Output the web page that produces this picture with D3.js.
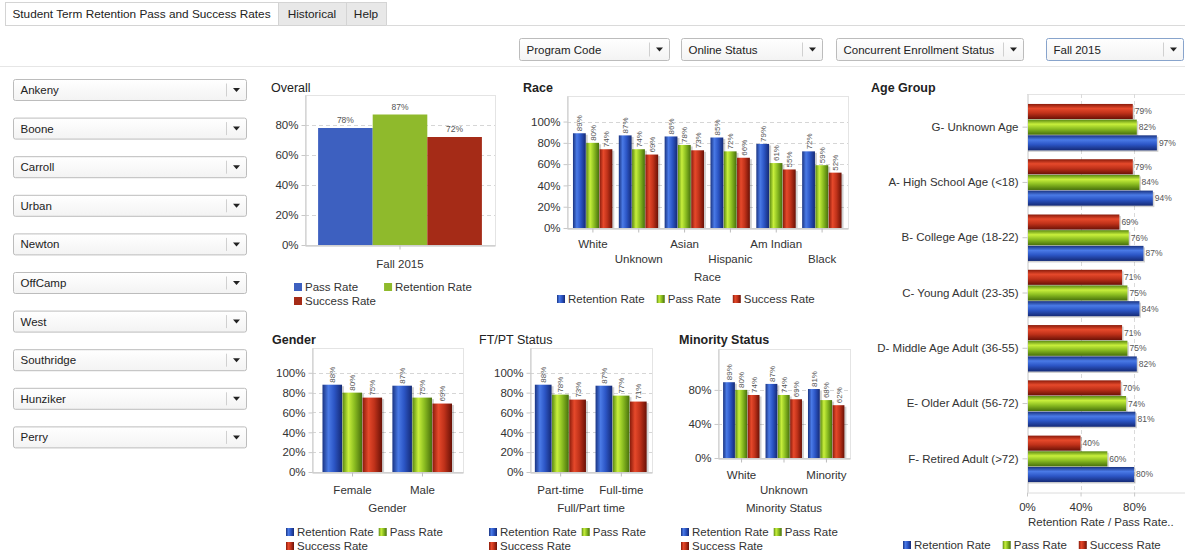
<!DOCTYPE html>
<html lang="en">
<head>
<meta charset="UTF-8" />
<title>Student Term Retention Pass and Success Rates</title>
<script src="https://cdn.jsdelivr.net/npm/d3@7"></script>
<style>
  html, body { margin: 0; padding: 0; background: #fff; }
  svg { display: block; font-family: 'Liberation Sans', Arial, sans-serif; }
</style>
</head>
<body>
<svg width="1185" height="558"></svg>
<script>
const tabNames = ['Student Term Retention Pass and Success Rates', 'Historical', 'Help'];
const filterNames = ['Program Code', 'Online Status', 'Concurrent Enrollment Status', 'Fall 2015'];
const campusNames = ['Ankeny', 'Boone', 'Carroll', 'Urban', 'Newton', 'OffCamp', 'West', 'Southridge', 'Hunziker', 'Perry'];

const overallCats = ['Fall 2015'];
const overallSeries = ['Pass Rate', 'Retention Rate', 'Success Rate'];
const overallValues = [[78], [87], [72]];
const overallTicks = [0, 20, 40, 60, 80];

const rateSeries = ['Retention Rate', 'Pass Rate', 'Success Rate'];

const raceCats = ['White', 'Unknown', 'Asian', 'Hispanic', 'Am Indian', 'Black'];
const raceRetention = [89, 87, 86, 85, 79, 72];
const racePass = [80, 74, 78, 72, 61, 59];
const raceSuccess = [74, 69, 73, 66, 55, 52];
const raceTicks = [0, 20, 40, 60, 80, 100];

const genderCats = ['Female', 'Male'];
const genderRetention = [88, 87];
const genderPass = [80, 75];
const genderSuccess = [75, 69];

const ftptCats = ['Part-time', 'Full-time'];
const ftptRetention = [88, 87];
const ftptPass = [78, 77];
const ftptSuccess = [73, 71];
const smallTicks = [0, 20, 40, 60, 80, 100];

const minorityCats = ['White', 'Unknown', 'Minority'];
const minorityRetention = [89, 87, 81];
const minorityPass = [80, 74, 68];
const minoritySuccess = [74, 69, 62];
const minorityTicks = [0, 40, 80];

const ageCats = ['G- Unknown Age', 'A- High School Age (<18)', 'B- College Age (18-22)', 'C- Young Adult (23-35)',
  'D- Middle Age Adult (36-55)', 'E- Older Adult (56-72)', 'F- Retired Adult (>72)'];
const ageRetention = [97, 94, 87, 84, 82, 81, 80];
const agePass = [82, 84, 76, 75, 75, 74, 60];
const ageSuccess = [79, 79, 69, 71, 71, 70, 40];
const ageTicks = [0, 40, 80];

const svg = d3.select('svg');
const defs = svg.append('defs');

// cylinder-ish shading used by the BI tool
const gradStops = {
  blue: [[0, '#1a3482'], [0.3, '#4a7ae6'], [0.6, '#2c56c6'], [1, '#152a76']],
  green: [[0, '#5a8912'], [0.3, '#c8ef3c'], [0.6, '#8dbf22'], [1, '#47700c']],
  red: [[0, '#8a1b0b'], [0.3, '#e6492b'], [0.6, '#c0321a'], [1, '#6a1106']]
};
Object.entries(gradStops).forEach(([name, stops]) => {
  ['h', 'v'].forEach(dir => {
    const lg = defs.append('linearGradient').attr('id', name + '-' + dir)
      .attr('x1', 0).attr('y1', 0).attr('x2', dir === 'h' ? 1 : 0).attr('y2', dir === 'h' ? 0 : 1);
    stops.forEach(s => lg.append('stop').attr('offset', s[0]).attr('stop-color', s[1]));
  });
});
const dd = defs.append('linearGradient').attr('id', 'dd').attr('x1', 0).attr('y1', 0).attr('x2', 0).attr('y2', 1);
dd.append('stop').attr('offset', 0).attr('stop-color', '#ffffff');
dd.append('stop').attr('offset', 1).attr('stop-color', '#f3f3f3');

const seriesColor = { 'Retention Rate': 'blue', 'Pass Rate': 'green', 'Success Rate': 'red' };
const overallFlat = { 'Pass Rate': '#3d60c0', 'Retention Rate': '#8fba2c', 'Success Rate': '#a52b17' };

// ---- tabs ----
const tabEdges = [5, 278, 346, 386];
tabNames.forEach((t, i) => {
  svg.append('rect').attr('x', tabEdges[i] + 0.5).attr('y', 2.5)
    .attr('width', tabEdges[i + 1] - tabEdges[i]).attr('height', 23)
    .attr('fill', i === 0 ? '#fff' : '#e8e8e8').attr('stroke', '#d4d4d4');
  svg.append('text').attr('x', (tabEdges[i] + tabEdges[i + 1]) / 2).attr('y', 14).attr('dy', '0.35em')
    .attr('text-anchor', 'middle').attr('font-size', 11.8).attr('fill', '#222').text(t);
});
svg.append('line').attr('x1', 386).attr('x2', 1185).attr('y1', 25.5).attr('y2', 25.5).attr('stroke', '#dadada');
svg.append('line').attr('x1', 0).attr('x2', 1185).attr('y1', 66.5).attr('y2', 66.5).attr('stroke', '#e6e6e6');

function dropdown(x, y, w, h, label, active) {
  const g = svg.append('g').attr('transform', `translate(${x + 0.5},${y + 0.5})`);
  g.append('rect').attr('width', w).attr('height', h).attr('rx', 2)
    .attr('fill', 'url(#dd)').attr('stroke', active ? '#88a4cc' : '#bcbcbc');
  g.append('text').attr('x', 7).attr('y', h / 2).attr('dy', '0.35em')
    .attr('font-size', 11.5).attr('fill', '#222').text(label);
  g.append('line').attr('x1', w - 20).attr('x2', w - 20).attr('y1', 4).attr('y2', h - 4).attr('stroke', '#d0d0d0');
  g.append('path').attr('d', `M${w - 13.5},${h / 2 - 2}h7l-3.5,4z`).attr('fill', '#222');
}

const filterBoxes = [[519, 150], [681, 141], [836, 187], [1046, 137]];
filterNames.forEach((f, i) => dropdown(filterBoxes[i][0], 38, filterBoxes[i][1], 22, f, i === 3));
campusNames.forEach((c, i) => dropdown(13, 79 + i * 38.6, 233, 21, c, false));

function legend(g, rows, x0, y0, gap, fillFn) {
  rows.forEach((row, ri) => {
    let x = x0;
    const y = y0 + ri * 14;
    row.forEach(s => {
      g.append('rect').attr('x', x).attr('y', y - 4).attr('width', 8).attr('height', 8).attr('fill', fillFn(s));
      const t = g.append('text').attr('x', x + 11).attr('y', y).attr('dy', '0.35em')
        .attr('font-size', 11.5).attr('fill', '#333').text(s);
      x += 11 + t.node().getComputedTextLength() + gap;
    });
  });
}

function columnChart(c) {
  const g = svg.append('g');
  const x = d3.scaleBand().domain(c.cats).range([c.left, c.right]).paddingInner(c.pad).paddingOuter(c.outer);
  const xs = d3.scaleBand().domain(c.series).range([0, x.bandwidth()]);
  const y = d3.scaleLinear().domain([0, c.max]).range([c.bottom, c.top]);
  const fill = s => c.flat ? c.flat[s] : `url(#${seriesColor[s]}-h)`;

  g.append('text').attr('x', c.titleX).attr('y', c.titleY)
    .attr('font-size', 12.5).attr('font-weight', c.bold ? 'bold' : 'normal').attr('fill', '#222').text(c.title);

  g.append('rect').attr('x', c.left + 0.5).attr('y', c.top + 0.5)
    .attr('width', c.right - c.left).attr('height', c.bottom - c.top)
    .attr('fill', 'none').attr('stroke', '#e4e4e4');

  g.selectAll('line.grid').data(c.ticks.filter(t => t > 0)).join('line').attr('class', 'grid')
    .attr('x1', c.left).attr('x2', c.right)
    .attr('y1', d => Math.round(y(d)) + 0.5).attr('y2', d => Math.round(y(d)) + 0.5)
    .attr('stroke', '#d6d6d6').attr('stroke-dasharray', '4,3');

  const yAxis = g.append('g').attr('transform', `translate(${c.left + 0.5},0)`)
    .call(d3.axisLeft(y).tickValues(c.ticks).tickFormat(d => d + '%').tickSize(4).tickSizeOuter(0).tickPadding(3));
  yAxis.attr('font-family', null).attr('font-size', 11.5);
  yAxis.select('.domain').attr('stroke', '#c8c8c8');
  yAxis.selectAll('.tick line').attr('stroke', '#c8c8c8');
  yAxis.selectAll('.tick text').attr('fill', '#333');

  const xAxis = g.append('g').attr('transform', `translate(0,${c.bottom + 0.5})`)
    .call(d3.axisBottom(x).tickSize(4).tickSizeOuter(0).tickFormat(() => ''));
  xAxis.select('.domain').attr('stroke', '#bdbdbd');
  xAxis.selectAll('.tick line').attr('stroke', '#bdbdbd');

  g.selectAll('text.cat').data(c.cats).join('text').attr('class', 'cat')
    .attr('x', d => x(d) + x.bandwidth() / 2).attr('y', (d, i) => c.catY[i % c.catY.length])
    .attr('dy', '0.35em').attr('text-anchor', 'middle').attr('font-size', 11.5).attr('fill', '#333').text(d => d);

  if (c.axisTitle) {
    g.append('text').attr('x', (c.left + c.right) / 2).attr('y', c.axisTitleY).attr('dy', '0.35em')
      .attr('text-anchor', 'middle').attr('font-size', 11.5).attr('fill', '#333').text(c.axisTitle);
  }

  c.series.forEach((s, si) => {
    const vals = c.values[si];
    const bars = g.append('g');
    if (!c.flat) {
      bars.selectAll('rect.sh').data(c.cats).join('rect').attr('class', 'sh')
        .attr('x', d => x(d) + xs(s) + 1.5).attr('y', (d, i) => y(vals[i]) + 1.5)
        .attr('width', xs.bandwidth()).attr('height', (d, i) => y(0) - y(vals[i]) - 1.5)
        .attr('fill', '#000').attr('opacity', 0.18);
    }
    bars.selectAll('rect.bar').data(c.cats).join('rect').attr('class', 'bar')
      .attr('x', d => x(d) + xs(s)).attr('y', (d, i) => y(vals[i]))
      .attr('width', xs.bandwidth() - (c.flat ? 0 : 0.5)).attr('height', (d, i) => y(0) - y(vals[i]))
      .attr('fill', fill(s));
    if (c.flat) {
      bars.selectAll('text').data(c.cats).join('text')
        .attr('x', d => x(d) + xs(s) + xs.bandwidth() / 2).attr('y', (d, i) => y(vals[i]) - 5)
        .attr('text-anchor', 'middle').attr('font-size', 8.5).attr('fill', '#555')
        .text((d, i) => vals[i] + '%');
    } else {
      bars.selectAll('text').data(c.cats).join('text')
        .attr('transform', (d, i) => `translate(${x(d) + xs(s) + xs.bandwidth() / 2},${y(vals[i]) - 2}) rotate(-90)`)
        .attr('dy', '0.35em').attr('font-size', 8).attr('fill', '#555')
        .text((d, i) => vals[i] + '%');
    }
  });

  legend(g, c.legendRows, c.legendX, c.legendY, c.legendGap, fill);
}

columnChart({
  title: 'Overall', bold: false, titleX: 271, titleY: 92,
  left: 305, right: 495, top: 95, bottom: 245, max: 100, ticks: overallTicks,
  cats: overallCats, series: overallSeries, values: overallValues, flat: overallFlat,
  pad: 0, outer: 0.08, catY: [264],
  legendRows: [['Pass Rate', 'Retention Rate'], ['Success Rate']], legendX: 294, legendY: 287, legendGap: 26
});

columnChart({
  title: 'Race', bold: true, titleX: 523, titleY: 92,
  left: 567, right: 848, top: 96, bottom: 228, max: 124, ticks: raceTicks,
  cats: raceCats, series: rateSeries, values: [raceRetention, racePass, raceSuccess],
  pad: 0.13, outer: 0.13, catY: [244, 259], axisTitle: 'Race', axisTitleY: 277,
  legendRows: [rateSeries], legendX: 557, legendY: 299, legendGap: 12
});

columnChart({
  title: 'Gender', bold: true, titleX: 272, titleY: 344,
  left: 312, right: 463, top: 348, bottom: 472, max: 125, ticks: smallTicks,
  cats: genderCats, series: rateSeries, values: [genderRetention, genderPass, genderSuccess],
  pad: 0.14, outer: 0.15, catY: [490], axisTitle: 'Gender', axisTitleY: 508,
  legendRows: [['Retention Rate', 'Pass Rate'], ['Success Rate']], legendX: 286, legendY: 532, legendGap: 5
});

columnChart({
  title: 'FT/PT Status', bold: false, titleX: 479, titleY: 344,
  left: 530, right: 652, top: 348, bottom: 472, max: 125, ticks: smallTicks,
  cats: ftptCats, series: rateSeries, values: [ftptRetention, ftptPass, ftptSuccess],
  pad: 0.15, outer: 0.08, catY: [490], axisTitle: 'Full/Part time', axisTitleY: 508,
  legendRows: [['Retention Rate', 'Pass Rate'], ['Success Rate']], legendX: 489, legendY: 532, legendGap: 5
});

columnChart({
  title: 'Minority Status', bold: true, titleX: 679, titleY: 344,
  left: 718, right: 850, top: 349, bottom: 458, max: 128, ticks: minorityTicks,
  cats: minorityCats, series: rateSeries, values: [minorityRetention, minorityPass, minoritySuccess],
  pad: 0.13, outer: 0.12, catY: [475, 490], axisTitle: 'Minority Status', axisTitleY: 508,
  legendRows: [['Retention Rate', 'Pass Rate'], ['Success Rate']], legendX: 681, legendY: 532, legendGap: 5
});

// ---- Age Group (horizontal) ----
(function ageChart() {
  const g = svg.append('g');
  const left = 1027, right = 1185, top = 94, bottom = 492;
  const y = d3.scaleBand().domain(ageCats).range([top, bottom]).paddingInner(0.16).paddingOuter(0.18);
  const order = ['Success Rate', 'Pass Rate', 'Retention Rate'];
  const vals = { 'Retention Rate': ageRetention, 'Pass Rate': agePass, 'Success Rate': ageSuccess };
  const ys = d3.scaleBand().domain(order).range([0, y.bandwidth()]).paddingInner(0.04);
  const x = d3.scaleLinear().domain([0, 118]).range([left, right]);

  g.append('text').attr('x', 871).attr('y', 92).attr('font-size', 12.5).attr('font-weight', 'bold')
    .attr('fill', '#222').text('Age Group');

  g.append('line').attr('x1', left).attr('x2', right).attr('y1', top + 0.5).attr('y2', top + 0.5).attr('stroke', '#e4e4e4');
  g.selectAll('line.grid').data(ageTicks.filter(t => t > 0)).join('line').attr('class', 'grid')
    .attr('x1', d => Math.round(x(d)) + 0.5).attr('x2', d => Math.round(x(d)) + 0.5)
    .attr('y1', top).attr('y2', bottom)
    .attr('stroke', '#dadada').attr('stroke-dasharray', '4,3');

  const yAxis = g.append('g').attr('transform', `translate(${left + 0.5},0)`)
    .call(d3.axisLeft(y).tickSize(5).tickSizeOuter(0).tickPadding(4));
  yAxis.attr('font-family', null).attr('font-size', 11.5);
  yAxis.select('.domain').attr('stroke', '#c8c8c8');
  yAxis.selectAll('.tick line').attr('stroke', '#c8c8c8');
  yAxis.selectAll('.tick text').attr('fill', '#333');

  const xAxis = g.append('g').attr('transform', `translate(0,${bottom + 0.5})`)
    .call(d3.axisBottom(x).tickValues(ageTicks).tickFormat(d => d + '%').tickSize(4).tickSizeOuter(0).tickPadding(6));
  xAxis.attr('font-family', null).attr('font-size', 11.5);
  xAxis.select('.domain').attr('stroke', '#dcdcdc');
  xAxis.selectAll('.tick line').attr('stroke', '#c8c8c8');
  xAxis.selectAll('.tick text').attr('fill', '#333');

  g.append('text').attr('x', 1028).attr('y', 522).attr('dy', '0.35em').attr('font-size', 11.5).attr('fill', '#333')
    .text('Retention Rate / Pass Rate..');

  order.forEach(s => {
    const v = vals[s];
    const bars = g.append('g');
    bars.selectAll('rect.sh').data(ageCats).join('rect').attr('class', 'sh')
      .attr('x', left + 1).attr('y', d => y(d) + ys(s) + 1.5)
      .attr('width', (d, i) => x(v[i]) - left + 0.5).attr('height', ys.bandwidth())
      .attr('fill', '#000').attr('opacity', 0.18);
    bars.selectAll('rect.bar').data(ageCats).join('rect').attr('class', 'bar')
      .attr('x', left + 1).attr('y', d => y(d) + ys(s))
      .attr('width', (d, i) => x(v[i]) - left - 1).attr('height', ys.bandwidth())
      .attr('fill', `url(#${seriesColor[s]}-v)`);
    bars.selectAll('text').data(ageCats).join('text')
      .attr('x', (d, i) => x(v[i]) + 2).attr('y', d => y(d) + ys(s) + ys.bandwidth() / 2)
      .attr('dy', '0.35em').attr('font-size', 8.5).attr('fill', '#555')
      .text((d, i) => v[i] + '%');
  });

  legend(g, [rateSeries], 903, 545, 12, s => `url(#${seriesColor[s]}-h)`);
})();
</script>
</body>
</html>
